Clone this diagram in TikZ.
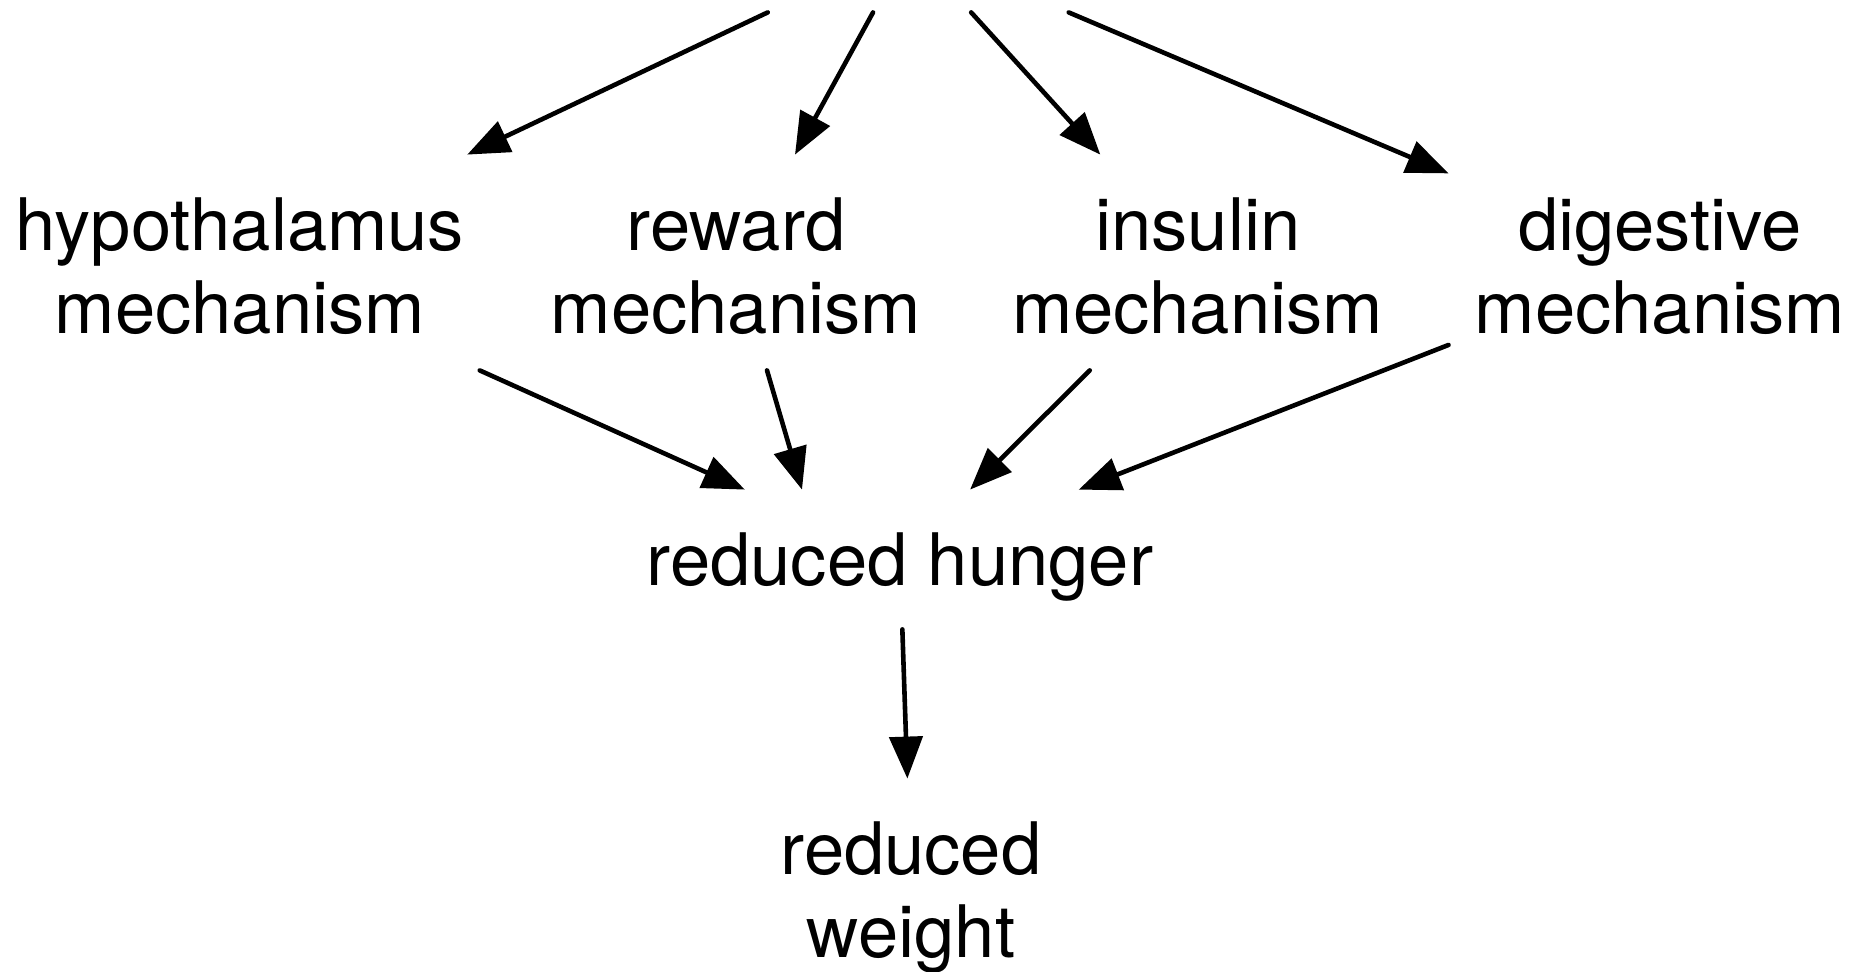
\documentclass[tikz,border=0pt]{standalone}
\usepackage{fontspec}
\setmainfont{TeX Gyre Heros}
\usetikzlibrary{arrows.meta}
\begin{document}
\begin{tikzpicture}[x=0.5pt,y=-0.5pt,
  mech/.style={align=center, font=\fontsize{36.2pt}{41.5pt}\selectfont,
    text height=70.5pt, text depth=0pt, minimum height=107.5pt,
    inner xsep=13pt, inner ysep=0pt},
  single/.style={font=\fontsize{36.2pt}{41.5pt}\selectfont,
    text height=33pt, text depth=7.5pt, minimum height=69.5pt,
    inner xsep=13pt, inner ysep=0pt},
  arr/.style={-{Triangle[length=21pt,width=16.5pt]}, line width=2.3pt, line cap=round}]
\useasboundingbox (0,0) rectangle (1860,971);
\node[minimum width=200pt, minimum height=67pt, inner sep=0pt] (src) at (910,-55) {};
\node[mech] (hyp) at (240,262.5) {hypothalamus\\mechanism};
\node[mech] (rew) at (736,262.5) {reward\\mechanism};
\node[mech] (ins) at (1198,262.5) {insulin\\mechanism};
\node[mech] (dig) at (1660,262.5) {digestive\\mechanism};
\node[single] (hun) at (900,559.5) {reduced hunger};
\node[mech] (wt) at (911,886.5) {reduced\\weight};
\draw[arr] (src) -- (hyp);
\draw[arr] (src) -- (rew);
\draw[arr] (src) -- (ins);
\draw[arr] (src) -- (dig);
\draw[arr] (hyp) -- (hun);
\draw[arr] ([xshift=15.5pt]rew.south) -- ([xshift=-49pt]hun.north);
\draw[arr] (ins) -- (hun);
\draw[arr] (dig) -- (hun);
\draw[arr] (hun) -- (wt);
\end{tikzpicture}
\end{document}
